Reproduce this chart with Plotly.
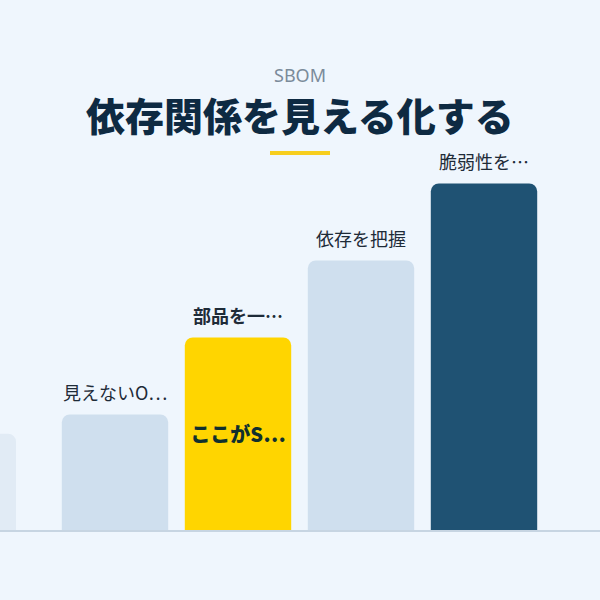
import plotly.graph_objects as go

# ---- data ----
categories = [0, 1, 2, 3, 4]
values = [25, 30, 50, 70, 90]
top_labels = ["", "見えないO…", "部品を一…", "依存を把握", "脆弱性を…"]
top_bold = [False, False, True, False, False]
inside_labels = ["", "", "ここがS…", "", ""]
bar_colors = ["#E1EBF5", "#CFDFEE", "#FFD500", "#CFDFEE", "#1F5273"]
bar_widths = [0.39, 0.865, 0.865, 0.865, 0.865]
bar_offsets = [-0.195, -0.4325, -0.4325, -0.4325, -0.4325]

title_text = "依存関係を見える化する"
kicker_text = "SBOM"

BG = "#EFF6FD"
FONT = "Noto Sans CJK JP"

W, H = 600, 600
M_T, M_B = 145, 70
plot_h = H - M_T - M_B


def py_to_paper(py):
    return (H - M_B - py) / plot_h


fig = go.Figure()
fig.add_trace(go.Bar(
    x=categories, y=values,
    width=bar_widths, offset=bar_offsets,
    marker=dict(color=bar_colors, line=dict(width=0), cornerradius=8),
    text=inside_labels, textposition="inside", insidetextanchor="middle",
    textfont=dict(family=FONT, size=20, color="#10302E", weight=900),
    textangle=0,
    hoverinfo="skip",
))

annotations = []
for c, v, lab, b in zip(categories, values, top_labels, top_bold):
    if not lab:
        continue
    annotations.append(dict(
        x=c, y=v, xref="x", yref="y", text=lab, showarrow=False,
        yanchor="bottom", yshift=8,
        font=dict(family=FONT, size=18, color="#1E2B38",
                  weight="bold" if b else "normal"),
    ))

annotations.append(dict(
    x=0.5, y=py_to_paper(75), xref="paper", yref="paper", text=kicker_text,
    showarrow=False, yanchor="middle",
    font=dict(family="Noto Sans", size=18, color="#7B8B9A"),
))
annotations.append(dict(
    x=0.5, y=py_to_paper(114), xref="paper", yref="paper", text=title_text,
    showarrow=False, yanchor="middle",
    font=dict(family=FONT, size=39, color="#0E2A42", weight=900),
))

fig.update_layout(
    width=W, height=H,
    paper_bgcolor=BG, plot_bgcolor=BG,
    margin=dict(l=0, r=0, t=M_T, b=M_B, pad=0),
    showlegend=False,
    annotations=annotations,
    shapes=[dict(
        type="line", xref="paper", yref="paper",
        x0=270 / W, x1=330 / W, y0=py_to_paper(153), y1=py_to_paper(153),
        line=dict(color="#F7CE1E", width=4),
    )],
    xaxis=dict(range=[8 / 123, 608 / 123], showgrid=False, zeroline=False,
               showticklabels=False, showline=True, linecolor="#C7D5E2",
               linewidth=2, fixedrange=True),
    yaxis=dict(range=[0, 100], showgrid=False, zeroline=False,
               showticklabels=False, showline=False, fixedrange=True),
    uniformtext=dict(mode=False),
)

fig.write_html(
    "out.html",
    config=dict(displayModeBar=False),
    post_script="document.body.style.margin='0';document.body.style.background='%s';" % BG,
)
